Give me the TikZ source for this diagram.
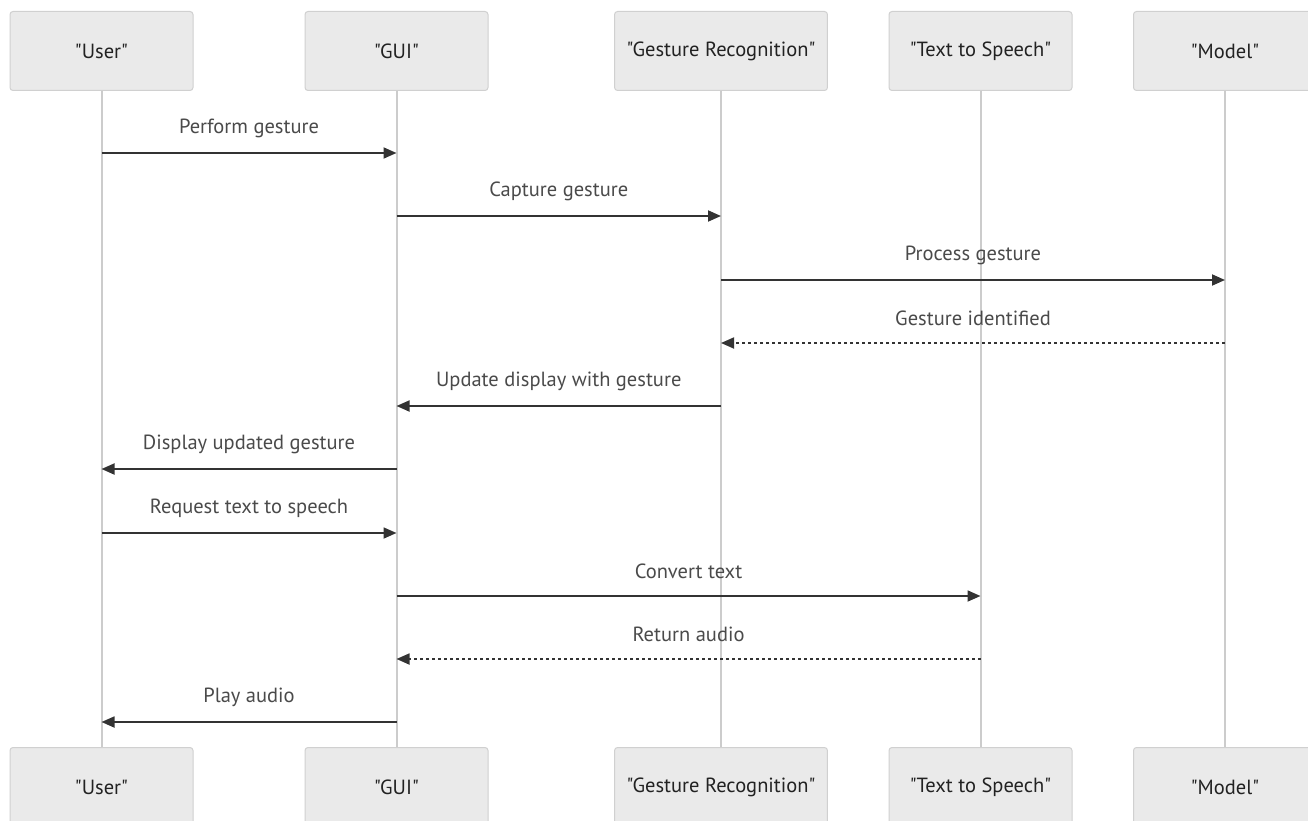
\documentclass[tikz,border=0pt]{standalone}
\usepackage{fontspec}
% family without TeX ligatures, so " stays a straight quote
\newfontfamily\labelfont{PT Sans}
\usetikzlibrary{arrows.meta}
\definecolor{boxfill}{HTML}{EAEAEA}
\definecolor{boxline}{HTML}{D0D0D0}
\definecolor{lifeline}{HTML}{CCCCCC}
\definecolor{msgline}{HTML}{333333}
\definecolor{msgtext}{HTML}{4A4A4A}
\definecolor{boxtext}{HTML}{222222}
\tikzset{
  actor/.style={draw=boxline, line width=1pt, fill=boxfill, rounded corners=3pt,
    minimum width=183pt, minimum height=79pt, inner xsep=12pt, inner ysep=0pt,
    font=\labelfont\fontsize{20.5}{24}\selectfont, text=boxtext},
  life/.style={draw=lifeline, line width=2pt},
  msg/.style={draw=msgline, line width=1.8pt, -{Triangle[length=13pt,width=11pt]}},
  reply/.style={msg, dash pattern=on 3pt off 3pt},
  lbl/.style={font=\labelfont\fontsize{20.5}{24}\selectfont, text=msgtext, anchor=center}
}
\begin{document}
\begin{tikzpicture}[x=1pt, y=-1pt]
\useasboundingbox (0,0) rectangle (1308,821);
% participants, top row
\node[actor] (uT) at (101.5,51) {"User"};
\node[actor] (gT) at (396.5,51) {"GUI"};
\node[actor] (rT) at (721,51) {"Gesture Recognition"};
\node[actor] (sT) at (980.5,51) {"Text to Speech"};
\node[actor] (mT) at (1225,51) {"Model"};
% participants, bottom row
\node[actor] (uB) at (101.5,787) {"User"};
\node[actor] (gB) at (396.5,787) {"GUI"};
\node[actor] (rB) at (721,787) {"Gesture Recognition"};
\node[actor] (sB) at (980.5,787) {"Text to Speech"};
\node[actor] (mB) at (1225,787) {"Model"};
% lifelines
\foreach \p in {u,g,r,s,m} \draw[life] (\p T.south) -- (\p B.north);
% messages
\draw[msg] (uT |- 0,153) -- (gT |- 0,153) node[lbl, midway, yshift=25pt] {Perform gesture};
\draw[msg] (gT |- 0,216) -- (rT |- 0,216) node[lbl, midway, yshift=25pt] {Capture gesture};
\draw[msg] (rT |- 0,280) -- (mT |- 0,280) node[lbl, midway, yshift=25pt] {Process gesture};
\draw[reply] (mT |- 0,343) -- (rT |- 0,343) node[lbl, midway, yshift=25pt] {Gesture identified};
\draw[msg] (rT |- 0,406) -- (gT |- 0,406) node[lbl, midway, yshift=25pt] {Update display with gesture};
\draw[msg] (gT |- 0,469) -- (uT |- 0,469) node[lbl, midway, yshift=25pt] {Display updated gesture};
\draw[msg] (uT |- 0,533) -- (gT |- 0,533) node[lbl, midway, yshift=25pt] {Request text to speech};
\draw[msg] (gT |- 0,596) -- (sT |- 0,596) node[lbl, midway, yshift=25pt] {Convert text};
\draw[reply] (sT |- 0,659) -- (gT |- 0,659) node[lbl, midway, yshift=25pt] {Return audio};
\draw[msg] (gT |- 0,722) -- (uT |- 0,722) node[lbl, midway, yshift=25pt] {Play audio};
\end{tikzpicture}
\end{document}
